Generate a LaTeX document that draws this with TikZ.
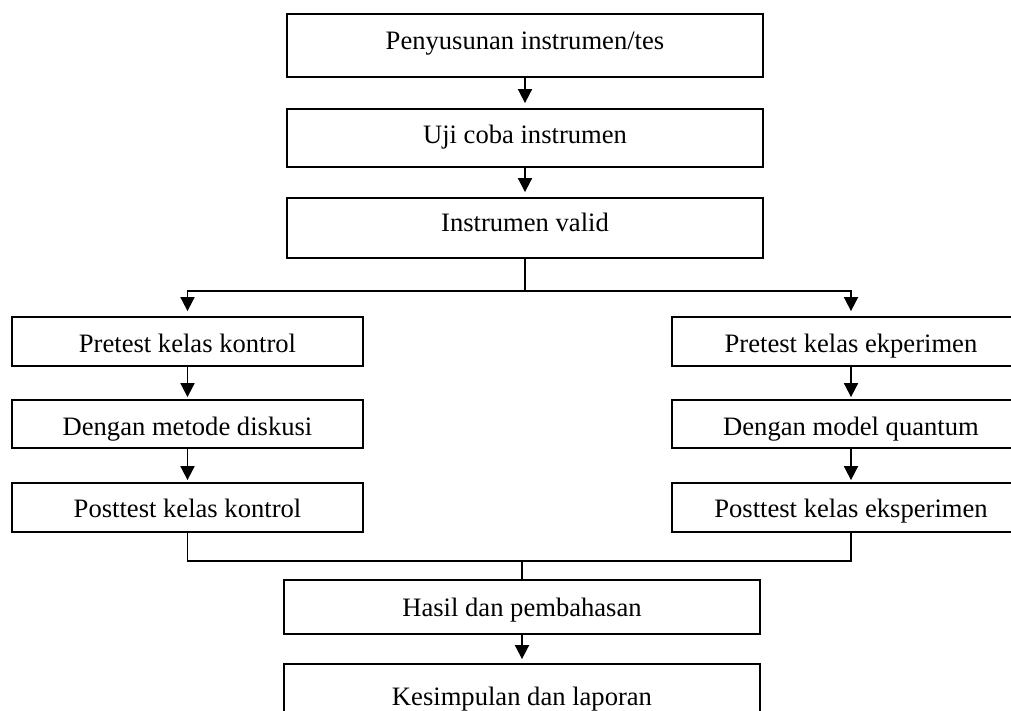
\documentclass[tikz,border=0pt]{standalone}
\usepackage{fontspec}
\setmainfont{Liberation Serif}
\usetikzlibrary{arrows.meta}
\begin{document}
\begin{tikzpicture}[x=1pt,y=-1pt,
  box/.style={draw=black, line width=1.8pt, inner sep=0pt, font=\fontsize{26.6}{30}\selectfont},
  conn/.style={line width=1.8pt},
  arr/.style={conn, -{Triangle[length=14pt,width=14pt]}, shorten >=5pt}]
\clip (0,0) rectangle (1011,711);
\fill[white] (0,0) rectangle (1011,711);
% top column
\node[box, minimum width=476, minimum height=63, text height=18.25pt, text depth=10.75pt] (b1) at (525,45.5) {Penyusunan instrumen/tes};
\node[box, minimum width=476, minimum height=58, text height=20.5pt, text depth=8.5pt] (b2) at (525,138) {Uji coba instrumen};
\node[box, minimum width=476, minimum height=60, text height=18.5pt, text depth=10.5pt] (b3) at (525,228) {Instrumen valid};
% left column
\node[box, minimum width=351, minimum height=49, text height=25pt, text depth=4pt] (l1) at (187.5,341.5) {Pretest kelas kontrol};
\node[box, minimum width=351, minimum height=48, text height=25.5pt, text depth=3.5pt] (l2) at (187.5,424) {Dengan metode diskusi};
\node[box, minimum width=351, minimum height=49, text height=24pt, text depth=5pt] (l3) at (187.5,507.5) {Posttest kelas kontrol};
% right column
\node[box, minimum width=358, minimum height=49, text height=25pt, text depth=4pt] (r1) at (851,341.5) {Pretest kelas ekperimen};
\node[box, minimum width=358, minimum height=48, text height=25.5pt, text depth=3.5pt] (r2) at (851,424) {Dengan model quantum};
\node[box, minimum width=358, minimum height=49, text height=24pt, text depth=5pt] (r3) at (851,507.5) {Posttest kelas eksperimen};
% bottom column
\node[box, minimum width=476, minimum height=54, text height=23.5pt, text depth=5.5pt] (h) at (522,607) {Hasil dan pembahasan};
\node[box, minimum width=476, minimum height=62, text height=24.5pt, text depth=4.5pt] (k) at (522,695) {Kesimpulan dan laporan};
% connectors
\draw[arr] (b1) -- (b2);
\draw[arr] (b2) -- (b3);
\coordinate (split) at (525,291);
\coordinate (merge) at (522,561);
\draw[conn] (b3) -- (split);
\draw[arr] (split) -| (l1);
\draw[arr] (split) -| (r1);
\draw[arr, shorten >=2pt] (l1) -- (l2);
\draw[arr, shorten >=2pt] (l2) -- (l3);
\draw[arr, shorten >=2pt] (r1) -- (r2);
\draw[arr, shorten >=2pt] (r2) -- (r3);
\draw[conn] (l3) |- (merge) -| (r3);
\draw[conn] (merge) -- (h);
\draw[arr, shorten >=4pt] (h) -- (k);
\end{tikzpicture}
\end{document}
